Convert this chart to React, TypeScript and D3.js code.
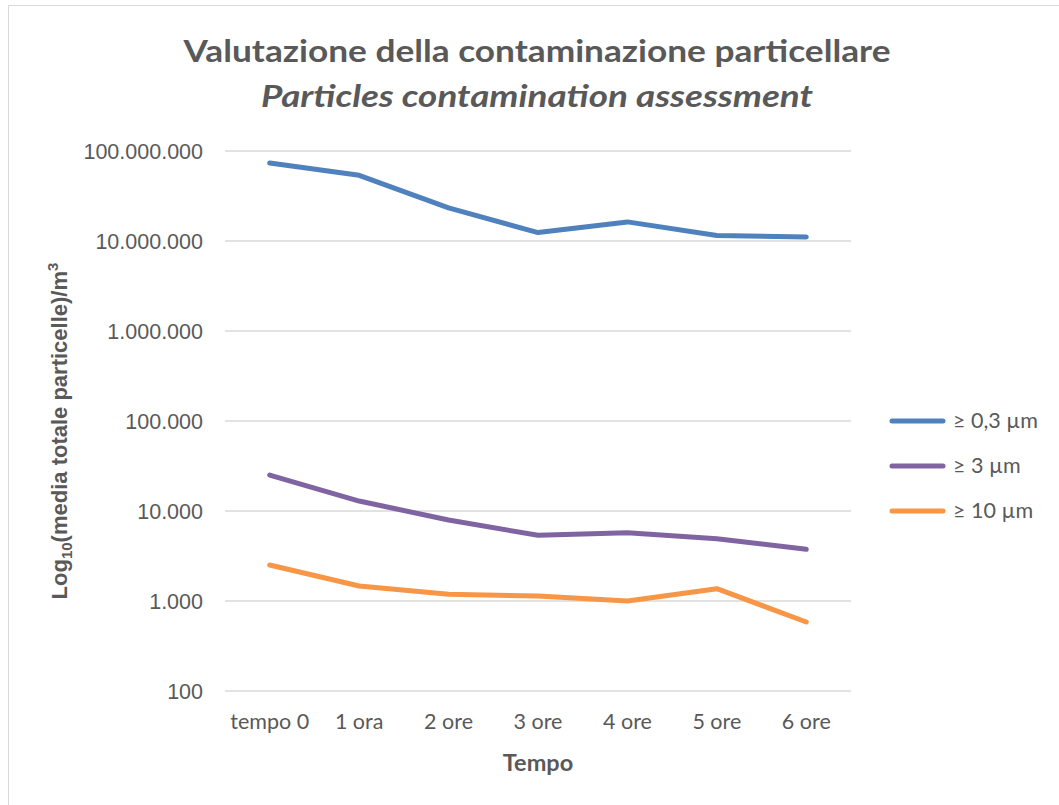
import React from "react";
import * as d3 from "d3";

const categories = ["tempo 0", "1 ora", "2 ore", "3 ore", "4 ore", "5 ore", "6 ore"];
const seriesNames = ["≥ 0,3 µm", "≥ 3 µm", "≥ 10 µm"];
const seriesColors = ["#4f81bd", "#8064a2", "#f79646"];
const values03 = [73600000, 53700000, 23300000, 12400000, 16300000, 11500000, 11100000];
const values3 = [25100, 12900, 7940, 5370, 5740, 4930, 3750];
const values10 = [2510, 1468, 1186, 1137, 1000, 1371, 584];
const yTicks = [100, 1000, 10000, 100000, 1000000, 10000000, 100000000];

const fmt = (v: number) => v.toString().replace(/\B(?=(\d{3})+(?!\d))/g, ".");

export default function App() {
  const W = 1059, H = 805;
  const left = 225, right = 851, top = 151, bottom = 691;
  const x = d3.scaleBand().domain(categories).range([left, right]);
  const y = d3.scaleLog().domain([100, 100000000]).range([bottom, top]);
  const line = d3
    .line<number>()
    .x((_, i) => (x(categories[i]) as number) + x.bandwidth() / 2)
    .y((d) => y(d));
  const series = [values03, values3, values10];
  const calibri = "Lato, 'Open Sans', sans-serif";
  const arial = "'Liberation Sans', Arial, sans-serif";
  return (
    <svg width={W} height={H} style={{ position: "absolute", left: 0, top: 0 }}>
      <rect x={0} y={0} width={W} height={H} fill="#fff" />
      <rect x={8.5} y={5.5} width={W + 10} height={H + 10} fill="none" stroke="#d9d9d9" strokeWidth={1} />
      <text x={537} y={62} textAnchor="middle" fontFamily={calibri} fontWeight="bold" fontSize={31} fill="#595959" textLength={707} lengthAdjust="spacingAndGlyphs">
        Valutazione della contaminazione particellare
      </text>
      <text x={537} y={107} textAnchor="middle" fontFamily={calibri} fontWeight="bold" fontStyle="italic" fontSize={31} fill="#595959" textLength={552} lengthAdjust="spacingAndGlyphs">
        Particles contamination assessment
      </text>
      {yTicks.map((t) => (
        <g key={t}>
          <line x1={left} x2={right} y1={y(t)} y2={y(t)} stroke="#d9d9d9" strokeWidth={1.5} />
          <text x={203} y={y(t) + 7.5} textAnchor="end" fontFamily={arial} fontSize={21.5} fill="#595959">
            {fmt(t)}
          </text>
        </g>
      ))}
      {categories.map((c) => (
        <text key={c} x={(x(c) as number) + x.bandwidth() / 2} y={729} textAnchor="middle" fontFamily={calibri} fontSize={21.5} fill="#595959">
          {c}
        </text>
      ))}
      <text x={538} y={771} textAnchor="middle" fontFamily={calibri} fontWeight="bold" fontSize={23.5} fill="#595959">
        Tempo
      </text>
      <text transform="translate(67,431) rotate(-90)" textAnchor="middle" fontFamily={arial} fontWeight="bold" fontSize={22} fill="#595959">
        Log<tspan fontSize={15} dy={5}>10</tspan>
        <tspan dy={-5}>(media totale particelle)/m</tspan>
        <tspan fontSize={15} dy={-9}>3</tspan>
      </text>
      {series.map((s, i) => (
        <path key={i} d={line(s) || ""} fill="none" stroke={seriesColors[i]} strokeWidth={5} strokeLinecap="round" strokeLinejoin="round" />
      ))}
      {seriesNames.map((n, i) => (
        <g key={n}>
          <line x1={892} x2={943} y1={421 + i * 45} y2={421 + i * 45} stroke={seriesColors[i]} strokeWidth={5} strokeLinecap="round" />
          <text x={953} y={428 + i * 45} fontFamily={calibri} fontSize={21.5} fill="#595959">
            {n}
          </text>
        </g>
      ))}
    </svg>
  );
}
